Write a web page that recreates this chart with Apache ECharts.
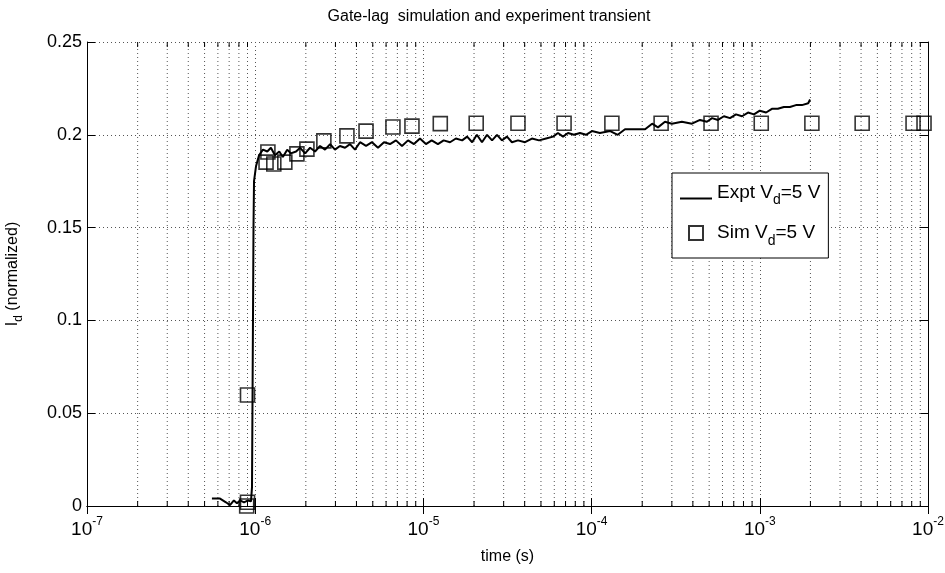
<!DOCTYPE html>
<html>
<head>
<meta charset="utf-8">
<script src="https://cdn.jsdelivr.net/npm/echarts@6/dist/echarts.min.js"></script>
<style>html,body{margin:0;padding:0;background:#fff;}#c{width:945px;height:573px;}</style>
</head>
<body>
<div id="c"></div>
<script>
// ---- data ----
const exptT = [5.53e-7,6.18e-7,6.70e-7,7.08e-7,7.47e-7,7.79e-7,8.12e-7,8.58e-7,9.06e-7,9.44e-7,
 9.57e-7,9.70e-7,9.77e-7,9.84e-7,1.011e-6,1.054e-6,1.112e-6,1.18e-6,1.24e-6,1.31e-6,1.39e-6,1.46e-6,1.55e-6,1.63e-6,1.75e-6,1.85e-6,
 1.98e-6,2.12e-6,2.27e-6,2.43e-6,2.60e-6,2.79e-6,2.98e-6,3.19e-6,3.42e-6,3.66e-6,3.92e-6,4.20e-6,4.56e-6,4.95e-6,5.37e-6,5.83e-6,
 6.33e-6,6.87e-6,7.46e-6,8.10e-6,8.79e-6,9.54e-6,1.035e-5,1.12e-5,1.22e-5,1.32e-5,1.44e-5,1.56e-5,1.70e-5,1.82e-5,1.95e-5,2.08e-5,
 2.23e-5,2.39e-5,2.56e-5,2.74e-5,2.93e-5,3.14e-5,3.36e-5,3.65e-5,4.02e-5,4.42e-5,4.87e-5,5.36e-5,5.90e-5,6.31e-5,6.76e-5,7.24e-5,
 7.86e-5,8.53e-5,9.26e-5,1.005e-4,1.12e-4,1.29e-4,1.43e-4,1.58e-4,1.81e-4,2.08e-4,2.29e-4,2.48e-4,2.73e-4,3.00e-4,3.44e-4,3.95e-4,
 4.41e-4,4.85e-4,5.20e-4,5.64e-4,6.12e-4,6.65e-4,7.22e-4,7.84e-4,8.51e-4,9.23e-4,1.00e-3,1.09e-3,1.18e-3,1.28e-3,1.39e-3,1.51e-3,
 1.64e-3,1.78e-3,1.94e-3,1.99e-3];
const exptI = [0.0040,0.0040,0.0020,0.0005,0.0030,0.0015,0.0030,0.0020,0.0030,0.0025,
 0.010,0.100,0.150,0.175,0.183,0.189,0.192,0.191,0.193,0.189,0.191,0.188,0.192,0.190,0.191,0.193,
 0.190,0.193,0.191,0.194,0.192,0.195,0.192,0.194,0.193,0.195,0.192,0.196,0.194,0.196,0.193,0.196,
 0.195,0.197,0.194,0.197,0.195,0.198,0.195,0.197,0.195,0.197,0.196,0.198,0.197,0.199,0.196,0.200,
 0.196,0.200,0.197,0.200,0.197,0.199,0.196,0.197,0.196,0.198,0.197,0.198,0.199,0.201,0.199,0.201,
 0.200,0.201,0.200,0.202,0.201,0.202,0.200,0.203,0.203,0.203,0.206,0.204,0.207,0.206,0.207,0.206,
 0.208,0.207,0.209,0.208,0.210,0.209,0.211,0.210,0.212,0.211,0.213,0.212,0.214,0.214,0.215,0.215,
 0.216,0.216,0.217,0.219];
const simT = [8.9e-7,9.0e-7,9.0e-7,1.16e-6,1.19e-6,1.29e-6,1.50e-6,1.77e-6,2.03e-6,2.56e-6,3.51e-6,4.56e-6,
 6.59e-6,8.55e-6,1.26e-5,2.06e-5,3.65e-5,6.86e-5,1.32e-4,2.59e-4,5.13e-4,1.02e-3,2.04e-3,4.06e-3,8.15e-3,9.47e-3];
const simI = [0.0000,0.0020,0.0598,0.1853,0.1907,0.1843,0.1853,0.1897,0.1923,0.1967,0.1994,0.2020,
 0.2042,0.2047,0.2060,0.2062,0.2062,0.2062,0.2062,0.2062,0.2062,0.2062,0.2062,0.2062,0.2062,0.2062];
const decades = [-7,-6,-5,-4,-3];
const minorMult = [2,3,4,5,6,7,8,9];

const minorTicks = [];
decades.forEach(d => minorMult.forEach(m => minorTicks.push([m * Math.pow(10, d), 0])));

const FONT = 'Liberation Sans';
const chart = echarts.init(document.getElementById('c'));
const gridColor = '#555';
const dash = [1, 3];

const xCommon = {
  type: 'log', min: 1e-7, max: 1e-2, logBase: 10, splitNumber: 5,
  axisLine: {show: true, lineStyle: {color: '#000', width: 1}},
  axisTick: {show: true, inside: true, length: 8, lineStyle: {color: '#000'}},
  minorTick: {show: false}, minorSplitLine: {show: false}
};

chart.setOption({
  backgroundColor: '#fff',
  animation: false,
  title: {
    text: 'Gate-lag  simulation and experiment transient',
    left: 484, top: 4, textAlign: 'center',
    textStyle: {fontFamily: FONT, fontSize: 16, fontWeight: 'normal', color: '#000'}
  },
  grid: {left: 87, right: 17, top: 42, bottom: 67, containLabel: false, outerBoundsMode: 'none'},
  legend: {
    left: 672, top: 173, orient: 'vertical',
    backgroundColor: '#fff', borderColor: '#000', borderWidth: 1,
    padding: [10, 8, 10, 8], itemGap: 16, itemWidth: 32, itemHeight: 14,
    data: [
      {name: 'Expt', icon: 'path://M0,0 M0,12 L32,12 L32,14 L0,14 Z'},
      {name: 'Sim', icon: 'path://M0,0 L10,0 L10,10 L0,10 Z'}
    ],
    formatter: n => n === 'Expt' ? '{n|Expt V}{s|d}{n|=5 V}' : '{n|Sim V}{s|d}{n|=5 V}',
    textStyle: {
      fontFamily: FONT, color: '#000', fontSize: 19,
      rich: {
        n: {fontFamily: FONT, fontSize: 19, color: '#000'},
        s: {fontFamily: FONT, fontSize: 14, color: '#000', padding: [16, 0, 0, 0]}
      }
    }
  },
  xAxis: [
    Object.assign({}, xCommon, {
      position: 'bottom',
      name: 'time (s)', nameLocation: 'middle', nameGap: 43,
      nameTextStyle: {fontFamily: FONT, fontSize: 16, color: '#000'},
      axisLabel: {
        margin: 6,
        formatter: v => '{b|10}{s|' + Math.round(Math.log10(v)) + '}',
        rich: {
          b: {fontFamily: FONT, fontSize: 19, color: '#000', padding: [8, 0, 0, 0]},
          s: {fontFamily: FONT, fontSize: 12, color: '#000', padding: [0, 0, 8, 0]}
        }
      },
      splitLine: {show: true, lineStyle: {color: gridColor, type: dash, width: 1}}
    }),
    Object.assign({}, xCommon, {
      position: 'top', axisLabel: {show: false}, splitLine: {show: false}
    })
  ],
  yAxis: [
    {
      type: 'value', min: 0, max: 0.25, interval: 0.05, position: 'left',
      name: '{n|I}{s|d}{n| (normalized)}', nameLocation: 'middle', nameGap: 62,
      nameTextStyle: {
        fontFamily: FONT, fontSize: 16, color: '#000',
        rich: {
          n: {fontFamily: FONT, fontSize: 16, color: '#000'},
          s: {fontFamily: FONT, fontSize: 12, color: '#000', padding: [12, 0, 0, 0]}
        }
      },
      axisLine: {show: true, lineStyle: {color: '#000', width: 1}},
      axisTick: {show: true, inside: true, length: 8, lineStyle: {color: '#000'}},
      axisLabel: {
        fontFamily: FONT, fontSize: 18, color: '#000', margin: 5,
        formatter: v => String(parseFloat(v.toFixed(2)))
      },
      splitLine: {show: true, lineStyle: {color: gridColor, type: dash, width: 1}}
    },
    {
      type: 'value', min: 0, max: 0.25, interval: 0.05, position: 'right',
      axisLine: {show: true, lineStyle: {color: '#000', width: 1}},
      axisTick: {show: true, inside: true, length: 8, lineStyle: {color: '#000'}},
      axisLabel: {show: false}, splitLine: {show: false}
    }
  ],
  series: [
    {
      name: 'minor', type: 'custom', xAxisIndex: 0, yAxisIndex: 0, silent: true, z: 1,
      data: minorTicks,
      renderItem: (params, api) => {
        const t = api.value(0);
        const p0 = api.coord([t, 0]);
        const p1 = api.coord([t, 0.25]);
        return {
          type: 'group',
          children: [
            {type: 'line', shape: {x1: p0[0], y1: p0[1], x2: p1[0], y2: p1[1]},
             style: {stroke: gridColor, lineWidth: 1, lineDash: dash}},
            {type: 'line', shape: {x1: p0[0], y1: p0[1], x2: p0[0], y2: p0[1] - 5},
             style: {stroke: '#000', lineWidth: 1}},
            {type: 'line', shape: {x1: p1[0], y1: p1[1], x2: p1[0], y2: p1[1] + 5},
             style: {stroke: '#000', lineWidth: 1}}
          ]
        };
      }
    },
    {
      name: 'Expt', type: 'line', xAxisIndex: 0, yAxisIndex: 0,
      data: exptT.map((t, i) => [t, exptI[i]]),
      showSymbol: false, symbol: 'none', z: 3,
      lineStyle: {color: '#000', width: 2},
      itemStyle: {color: '#000'}
    },
    {
      name: 'Sim', type: 'scatter', xAxisIndex: 0, yAxisIndex: 0,
      data: simT.map((t, i) => [t, simI[i]]),
      symbol: 'rect', symbolSize: 14, z: 4,
      itemStyle: {color: 'rgba(0,0,0,0)', borderColor: '#000', borderWidth: 1.6}
    }
  ]
});
</script>
</body>
</html>
